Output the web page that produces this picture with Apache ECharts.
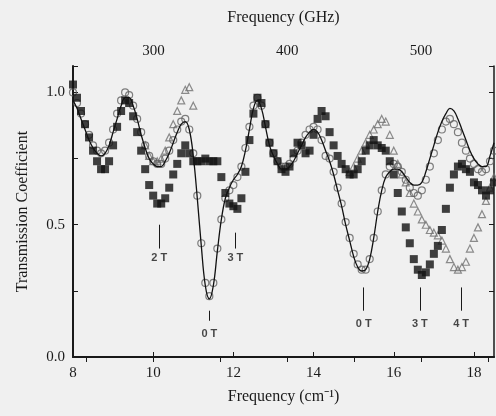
<!DOCTYPE html>
<html>
<head>
<meta charset="utf-8">
<script src="https://cdn.jsdelivr.net/npm/echarts@6/dist/echarts.min.js"></script>
<style>
  html, body { margin: 0; padding: 0; background: #f0f0f0; }
  #chart { width: 496px; height: 416px; }
</style>
</head>
<body>
<div id="chart"></div>
<script>
// frequency grid (cm^-1) the measured points were read at
var freq = [8.0,8.1,8.2,8.3,8.4,8.5,8.6,8.7,8.8,8.9,9.0,9.1,9.2,9.3,9.4,9.5,9.6,9.7,9.8,9.9,
  10.0,10.1,10.2,10.3,10.4,10.5,10.6,10.7,10.8,10.9,11.0,11.1,11.2,11.3,11.4,11.5,11.6,11.7,11.8,11.9,
  12.0,12.1,12.2,12.3,12.4,12.5,12.6,12.7,12.8,12.9,13.0,13.1,13.2,13.3,13.4,13.5,13.6,13.7,13.8,13.9,
  14.0,14.1,14.2,14.3,14.4,14.5,14.6,14.7,14.8,14.9,15.0,15.1,15.2,15.3,15.4,15.5,15.6,15.7,15.8,15.9,
  16.0,16.1,16.2,16.3,16.4,16.5,16.6,16.7,16.8,16.9,17.0,17.1,17.2,17.3,17.4,17.5,17.6,17.7,17.8,17.9,
  18.0,18.1,18.2,18.3,18.4,18.5];

// filled squares (field on)
var squares = [1.03,0.98,0.93,0.88,0.83,0.78,0.74,0.71,0.71,0.74,0.80,0.87,0.93,0.97,0.96,0.91,0.85,0.78,0.71,0.65,
  0.61,0.58,0.58,0.60,0.64,0.69,0.73,0.77,0.80,0.77,0.74,0.74,0.74,0.75,0.74,0.74,0.74,0.68,0.62,0.58,
  0.57,0.56,0.60,0.70,0.82,0.92,0.98,0.96,0.88,0.81,0.77,0.74,0.71,0.70,0.72,0.77,0.81,0.80,0.77,0.78,
  0.84,0.90,0.93,0.91,0.85,0.80,0.76,0.73,0.71,0.69,0.69,0.71,0.74,0.78,0.80,0.82,0.80,0.79,0.78,0.74,
  0.69,0.62,0.55,0.49,0.43,0.37,0.33,0.31,0.32,0.35,0.39,0.42,0.48,0.56,0.64,0.69,0.72,0.73,0.71,0.70,
  0.66,0.65,0.63,0.61,0.63,0.66];

// open circles (0 T)
var circles = [1.00,0.96,0.92,0.88,0.84,0.80,0.78,0.77,0.78,0.81,0.86,0.92,0.97,1.00,0.99,0.95,0.90,0.85,0.80,0.76,
  0.74,0.73,0.73,0.75,0.78,0.82,0.86,0.89,0.90,0.86,0.77,0.61,0.43,0.28,0.23,0.28,0.41,0.52,0.60,0.63,
  0.65,0.68,0.72,0.79,0.87,0.95,0.98,0.95,0.88,0.81,0.77,0.74,0.72,0.72,0.73,0.75,0.78,0.81,0.84,0.86,
  0.87,0.86,0.82,0.76,0.75,0.70,0.64,0.58,0.51,0.45,0.39,0.35,0.33,0.33,0.37,0.45,0.55,0.63,0.69,0.72,
  0.73,0.72,0.70,0.67,0.64,0.62,0.61,0.63,0.67,0.72,0.77,0.82,0.86,0.89,0.90,0.88,0.85,0.81,0.78,0.75,
  0.73,0.71,0.70,0.71,0.74,0.78];

// solid fit curve
var fit = [0.97,0.94,0.90,0.86,0.82,0.79,0.77,0.76,0.77,0.80,0.85,0.90,0.95,0.98,0.98,0.95,0.90,0.84,0.79,0.75,
  0.73,0.72,0.72,0.74,0.77,0.81,0.85,0.88,0.89,0.86,0.76,0.60,0.42,0.27,0.22,0.27,0.40,0.52,0.60,0.64,
  0.67,0.69,0.72,0.78,0.86,0.94,0.97,0.94,0.87,0.80,0.76,0.73,0.71,0.71,0.72,0.74,0.77,0.80,0.83,0.85,
  0.86,0.85,0.82,0.78,0.74,0.69,0.63,0.57,0.50,0.44,0.38,0.34,0.325,0.33,0.37,0.45,0.55,0.63,0.68,0.70,
  0.71,0.71,0.70,0.68,0.66,0.65,0.65,0.66,0.70,0.75,0.80,0.85,0.89,0.92,0.94,0.93,0.90,0.86,0.82,0.78,
  0.75,0.73,0.72,0.72,0.76,0.81];

// open triangles (4 T), only where they stand clear of the other data
var triFreq = [9.8,9.9,10.0,10.1,10.2,10.3,10.4,10.5,10.6,10.7,10.8,10.9,11.0,
  14.9,15.0,15.1,15.2,15.3,15.4,15.5,15.6,15.7,15.8,15.9,16.0,16.1,16.2,16.3,16.4,16.5,16.6,16.7,16.8,16.9,
  17.0,17.1,17.2,17.3,17.4,17.5,17.6,17.7,17.8,17.9,18.0,18.1,18.2,18.3,18.4,18.5];
var triangles = [0.80,0.76,0.74,0.74,0.75,0.78,0.83,0.88,0.93,0.97,1.01,1.02,0.95,
  0.70,0.72,0.75,0.78,0.81,0.84,0.86,0.88,0.90,0.89,0.84,0.78,0.73,0.69,0.66,0.62,0.58,0.55,0.52,0.50,0.48,
  0.47,0.46,0.44,0.41,0.37,0.34,0.33,0.34,0.36,0.41,0.45,0.49,0.54,0.59,0.64,0.68];

// field labels with their marker ticks
var annoText = ['2 T', '3 T', '0 T', '0 T', '3 T', '4 T'];
var annoX = [10.15, 12.05, 11.4, 15.25, 16.65, 17.68];
var annoTop = [0.50, 0.47, 0.175, 0.263, 0.263, 0.263];
var annoBottom = [0.41, 0.41, 0.137, 0.175, 0.175, 0.175];
var annoLabelY = [0.374, 0.374, 0.088, 0.126, 0.126, 0.126];

var ghzTicks = [250, 300, 350, 400, 450, 500, 550];
var ghzLabels = [300, 400, 500];
var cmToGHz = 29.9792458;

var serif = 'Liberation Serif';
var ink = '#1a1a1a';

var chart = echarts.init(document.getElementById('chart'));

function pairs(xs, ys) {
  return xs.map(function (x, i) { return [x, ys[i]]; });
}

var annoLines = annoX.map(function (x, i) {
  return [{ coord: [x, annoTop[i]] }, { coord: [x, annoBottom[i]] }];
});
var annoPoints = annoX.map(function (x, i) {
  return { value: [x, annoLabelY[i]], name: annoText[i] };
});

var option = {
  backgroundColor: '#f0f0f0',
  animation: false,
  grid: { left: 73, right: 2, top: 66, bottom: 59 },
  xAxis: [{
    type: 'value',
    min: 8,
    max: 18.5,
    interval: 2,
    name: 'Frequency (cm⁻¹)',
    nameLocation: 'middle',
    nameGap: 32,
    nameTextStyle: { fontFamily: serif, fontSize: 16, color: ink },
    axisLine: { lineStyle: { color: ink, width: 2 } },
    axisTick: { inside: true, length: 5, lineStyle: { color: ink, width: 1 } },
    axisLabel: {
      fontFamily: serif, fontSize: 15, color: ink, margin: 9,
      showMaxLabel: false,
      formatter: function (v) { return String(v); }
    },
    splitLine: { show: false }
  }, {
    type: 'value',
    position: 'top',
    min: 8 * cmToGHz,
    max: 18.5 * cmToGHz,
    name: 'Frequency (GHz)',
    nameLocation: 'middle',
    nameGap: 40,
    nameTextStyle: { fontFamily: serif, fontSize: 16, color: ink },
    axisLine: { lineStyle: { color: ink, width: 1.5 } },
    axisTick: { inside: true, length: 5, customValues: ghzTicks, lineStyle: { color: ink } },
    axisLabel: { fontFamily: serif, fontSize: 15, color: ink, margin: 7, customValues: ghzLabels },
    splitLine: { show: false }
  }],
  yAxis: [{
    type: 'value',
    min: 0,
    max: 1.1,
    interval: 0.25,
    name: 'Transmission Coefficient',
    nameLocation: 'middle',
    nameGap: 42,
    nameTextStyle: { fontFamily: serif, fontSize: 16, color: ink },
    axisLine: { show: true, lineStyle: { color: ink, width: 2 } },
    axisTick: { show: true, inside: true, length: 5, lineStyle: { color: ink } },
    axisLabel: {
      fontFamily: serif, fontSize: 15, color: ink, margin: 8,
      formatter: function (v) {
        return (v === 0 || v === 0.5 || v === 1) ? v.toFixed(1) : '';
      }
    },
    splitLine: { show: false }
  }, {
    type: 'value',
    position: 'right',
    min: 0,
    max: 1.1,
    interval: 0.25,
    axisLine: { show: true, lineStyle: { color: ink, width: 1.5 } },
    axisTick: { show: true, inside: true, length: 5, lineStyle: { color: ink } },
    axisLabel: { show: false },
    splitLine: { show: false }
  }],
  series: [
    {
      name: 'open triangles',
      type: 'scatter',
      symbol: 'triangle',
      symbolSize: 7,
      itemStyle: { color: 'rgba(0,0,0,0)', borderColor: '#707070', borderWidth: 1.2 },
      data: pairs(triFreq, triangles),
      z: 2
    },
    {
      name: '0 T',
      type: 'scatter',
      symbol: 'circle',
      symbolSize: 7,
      itemStyle: { color: 'rgba(0,0,0,0)', borderColor: '#606060', borderWidth: 1.2 },
      data: pairs(freq, circles),
      z: 3
    },
    {
      name: 'filled squares',
      type: 'scatter',
      symbol: 'rect',
      symbolSize: 8,
      itemStyle: { color: '#111' },
      data: pairs(freq, squares),
      z: 4
    },
    {
      name: 'fit',
      type: 'line',
      smooth: 0.4,
      showSymbol: false,
      lineStyle: { color: '#111', width: 1.3 },
      data: pairs(freq, fit),
      z: 5
    },
    {
      name: 'labels',
      type: 'scatter',
      symbolSize: 0,
      data: annoPoints,
      label: {
        show: true,
        position: 'inside',
        formatter: function (p) { return p.name; },
        fontFamily: 'Liberation Sans',
        fontWeight: 'bold',
        fontSize: 11,
        color: ink
      },
      markLine: {
        silent: true,
        symbol: 'none',
        label: { show: false },
        lineStyle: { color: ink, width: 1, type: 'solid' },
        data: annoLines
      },
      z: 6
    }
  ]
};

chart.setOption(option);
</script>
</body>
</html>
